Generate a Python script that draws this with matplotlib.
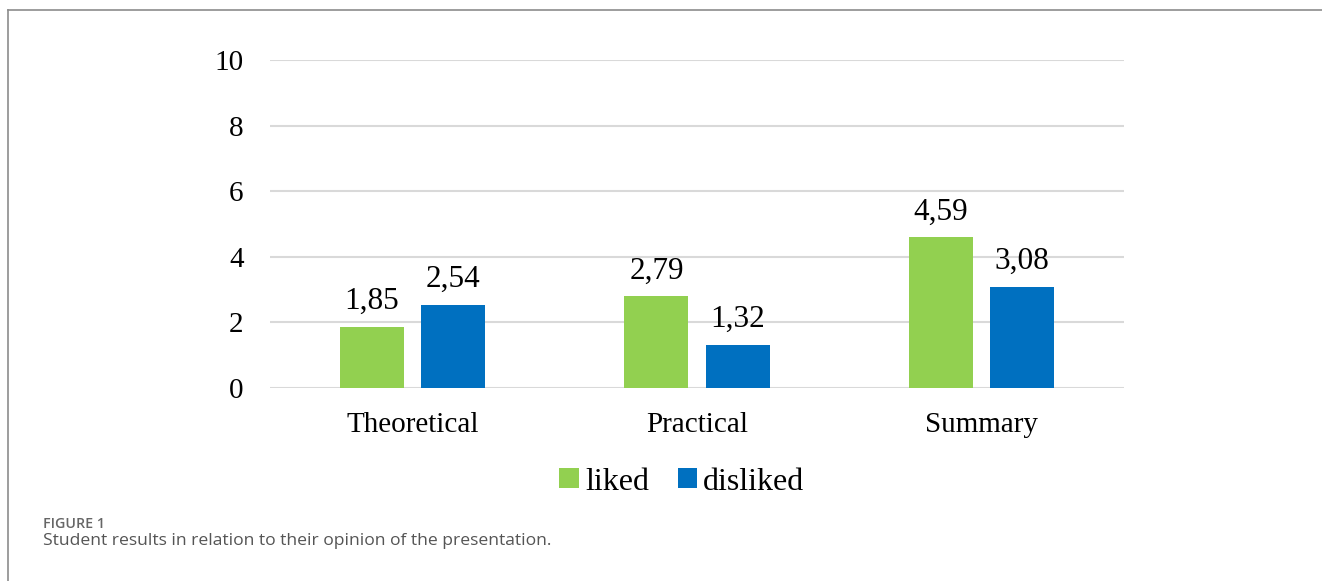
import matplotlib
matplotlib.use('Agg')
import matplotlib.pyplot as plt
import numpy as np
from matplotlib.lines import Line2D

categories = ['Theoretical', 'Practical', 'Summary']
liked = [1.85, 2.79, 4.59]
disliked = [2.54, 1.32, 3.08]
series_names = ['liked', 'disliked']
y_ticks = [0, 2, 4, 6, 8, 10]

green = '#92D050'
blue = '#0070C0'
serif = 'Liberation Serif'

W, H = 1322, 581
fig = plt.figure(figsize=(W / 100, H / 100), dpi=100)
ax = fig.add_axes([270 / W, 1 - 388 / H, (1124 - 270) / W, (388 - 60) / H])

x = np.arange(len(categories))
width = 0.225
gap = 0.06
b1 = ax.bar(x - (width + gap) / 2, liked, width, color=green, zorder=3, label=series_names[0])
b2 = ax.bar(x + (width + gap) / 2, disliked, width, color=blue, zorder=3, label=series_names[1])

for bars, vals in [(b1, liked), (b2, disliked)]:
    for rect, v in zip(bars, vals):
        ax.annotate(f'{v:.2f}'.replace('.', ','),
                    (rect.get_x() + rect.get_width() / 2, v),
                    xytext=(0, 8), textcoords='offset points',
                    ha='center', va='bottom', fontsize=22.5, family=serif)

ax.set_xlim(-0.5, len(categories) - 0.5)
ax.set_ylim(0, 10)
ax.set_yticks(y_ticks)
ax.set_yticklabels([str(t) for t in y_ticks], fontsize=21, family=serif)
ax.set_xticks(x)
ax.set_xticklabels(categories, fontsize=21, family=serif)
ax.tick_params(axis='y', length=0, pad=19)
ax.tick_params(axis='x', length=0, pad=17)
ax.grid(axis='y', color='#d9d9d9', linewidth=1.5, zorder=0)
for s in ax.spines.values():
    s.set_visible(False)

leg = fig.legend(handles=[b1, b2], loc='center', bbox_to_anchor=(682 / W, 1 - 482 / H),
                 ncol=2, frameon=False, handlelength=0.6, handleheight=0.6,
                 handletextpad=0.2, columnspacing=0.9,
                 prop={'family': serif, 'size': 23})

# frame around the figure panel (top and left edges)
fig.add_artist(Line2D([8 / W, 1.0], [1 - 10 / H, 1 - 10 / H], color='#8c8c8c', linewidth=1.2))
fig.add_artist(Line2D([8 / W, 8 / W], [0.0, 1 - 10 / H], color='#8c8c8c', linewidth=1.2))

fig.text(43 / W, 1 - 524 / H, 'FIGURE 1', fontsize=10.3, color='#666666',
         family='Open Sans', fontweight='semibold', va='center', ha='left')
fig.text(43 / W, 1 - 541 / H, 'Student results in relation to their opinion of the presentation.',
         fontsize=12.6, color='#555555', family='Open Sans', va='center', ha='left')

fig.savefig('out.png', dpi=100)
